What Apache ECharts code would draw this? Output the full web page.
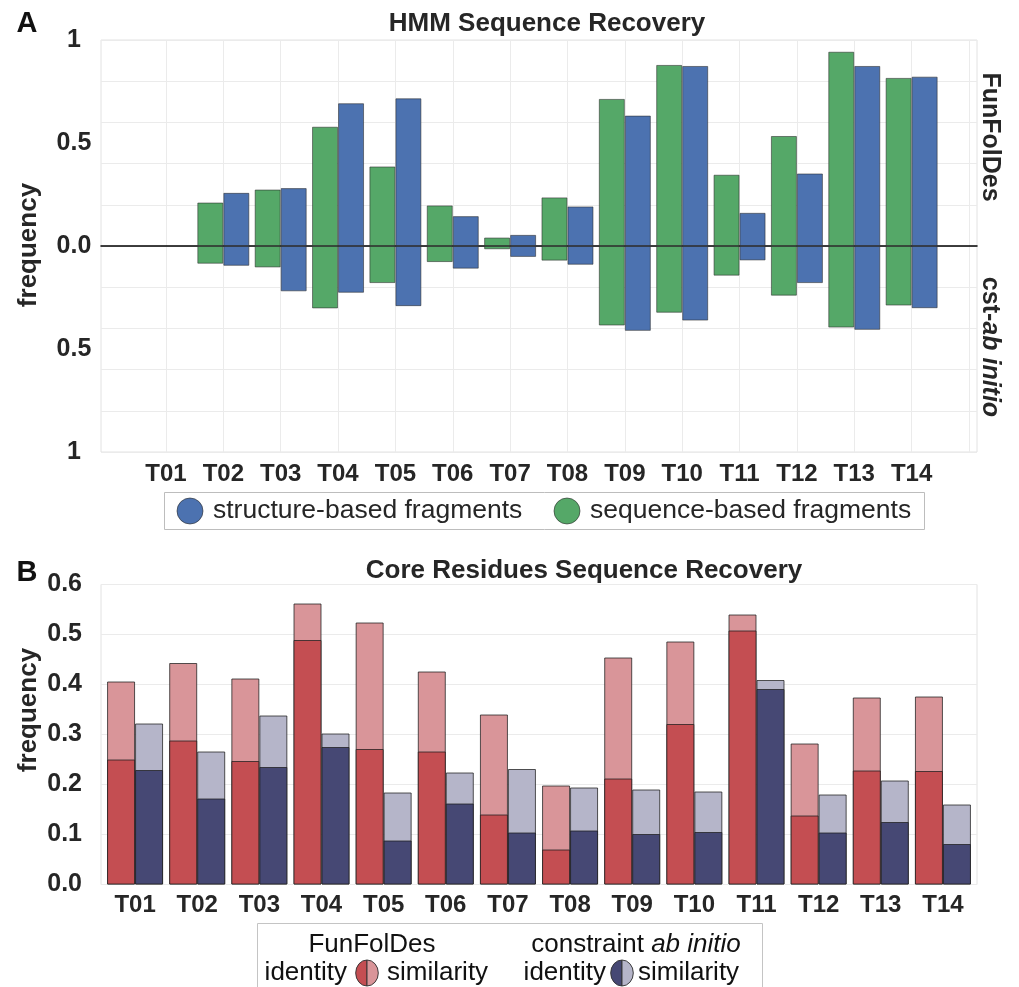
<!DOCTYPE html>
<html>
<head>
<meta charset="utf-8">
<script src="https://cdn.jsdelivr.net/npm/echarts@6/dist/echarts.min.js"></script>
<style>
html,body{margin:0;padding:0;background:#fff;}
#chart{width:1019px;height:987px;}
</style>
</head>
<body>
<div id="chart"></div>
<script>
// ---------- data ----------
const categories = ['T01','T02','T03','T04','T05','T06','T07','T08','T09','T10','T11','T12','T13','T14'];

// Panel A: HMM sequence recovery (upper = FunFolDes, lower = cst-ab initio)
const seqFunFolDes = [null, 0.211, 0.274, 0.579, 0.386, 0.197, 0.041, 0.236, 0.714, 0.879, 0.346, 0.534, 0.943, 0.816];
const strFunFolDes = [null, 0.258, 0.281, 0.693, 0.717, 0.145, 0.054, 0.192, 0.633, 0.874, 0.161, 0.352, 0.874, 0.822];
const seqAbInitio  = [null, 0.086, 0.104, 0.303, 0.180, 0.078, 0.016, 0.071, 0.386, 0.324, 0.144, 0.241, 0.396, 0.289];
const strAbInitio  = [null, 0.096, 0.220, 0.227, 0.292, 0.110, 0.053, 0.091, 0.412, 0.362, 0.070, 0.180, 0.407, 0.302];
const panelATicks = [-1, -0.5, 0, 0.5, 1];

// Panel B: core residues sequence recovery
const funfoldesSimilarity   = [0.406, 0.443, 0.412, 0.562, 0.524, 0.426, 0.340, 0.198, 0.454, 0.486, 0.540, 0.282, 0.374, 0.376];
const funfoldesIdentity     = [0.250, 0.288, 0.247, 0.489, 0.271, 0.266, 0.140, 0.070, 0.212, 0.321, 0.508, 0.138, 0.228, 0.227];
const constraintSimilarity  = [0.322, 0.266, 0.338, 0.302, 0.184, 0.224, 0.231, 0.194, 0.190, 0.186, 0.409, 0.180, 0.208, 0.160];
const constraintIdentity    = [0.229, 0.172, 0.235, 0.275, 0.088, 0.162, 0.104, 0.108, 0.101, 0.105, 0.391, 0.104, 0.125, 0.081];

// ---------- styles ----------
const FONT = 'Liberation Sans, Arial, Helvetica, sans-serif';
const TXT = '#262626';
const GREEN = '#55a868', BLUE = '#4c72b0';
const RED_ID = '#c44e52', RED_SIM = '#d99599';
const NAVY_ID = '#464874', NAVY_SIM = '#b5b5c9';
const GRIDC = '#ebebeb', FRAMEC = '#e2e2e2';

function pts(arr, sign) {
  const out = [];
  arr.forEach((v, i) => { if (v != null) out.push([i + 1, sign * v]); });
  return out;
}
const edgeA = { borderColor: 'rgba(40,40,40,0.55)', borderWidth: 1 };
const edgeB = { borderColor: 'rgba(30,30,30,0.75)', borderWidth: 1 };

function halfDisc(cx, cy, left, right) {
  const common = { scaleX: 0.87, scaleY: 1, originX: cx, originY: cy, z: 11 };
  return [
    Object.assign({ type: 'sector', shape: { cx: cx, cy: cy, r: 13, r0: 0, startAngle: Math.PI / 2, endAngle: Math.PI * 1.5, clockwise: true },
      style: { fill: left, stroke: '#333', lineWidth: 1 } }, common),
    Object.assign({ type: 'sector', shape: { cx: cx, cy: cy, r: 13, r0: 0, startAngle: -Math.PI / 2, endAngle: Math.PI / 2, clockwise: true },
      style: { fill: right, stroke: '#333', lineWidth: 1 } }, common)
  ];
}

const chart = echarts.init(document.getElementById('chart'), null, { renderer: 'canvas' });

const option = {
  animation: false,
  backgroundColor: '#fff',
  textStyle: { fontFamily: FONT },
  grid: [
    { left: 108.6, top: 40, width: 860.4, height: 412, outerBoundsMode: 'none' },           // 0 A bars
    { left: 101, top: 40, width: 876, height: 412, show: true, borderColor: FRAMEC, borderWidth: 1, backgroundColor: 'transparent', outerBoundsMode: 'none' }, // 1 A frame
    { left: 104, top: 584.5, width: 870, height: 300, outerBoundsMode: 'none' },             // 2 B bars
    { left: 101, top: 584.5, width: 876, height: 300, show: true, borderColor: FRAMEC, borderWidth: 1, backgroundColor: 'transparent', outerBoundsMode: 'none' } // 3 B frame
  ],
  xAxis: [
    { // 0: A labels + vertical grid
      gridIndex: 0, type: 'value', min: 0, max: 15, interval: 1,
      axisLine: { show: false }, axisTick: { show: false },
      axisLabel: {
        margin: 10, fontSize: 24, fontWeight: 'bold', color: TXT, fontFamily: FONT,
        formatter: v => (v >= 1 && v <= categories.length) ? categories[v - 1] : ''
      },
      splitLine: { show: true, showMinLine: false, showMaxLine: true, lineStyle: { color: GRIDC, width: 1 } }
    },
    { // 1: A lower (negative) bars, hidden
      gridIndex: 0, type: 'value', min: 0, max: 15, interval: 1, show: false
    },
    { // 2: A frame, zero line
      gridIndex: 1, type: 'value', min: 0, max: 1,
      axisLine: { show: true, onZero: true, lineStyle: { color: '#000', width: 1.5 } },
      axisTick: { show: false }, axisLabel: { show: false }, splitLine: { show: false }
    },
    { // 3: B categories
      gridIndex: 2, type: 'category', data: categories,
      axisLine: { show: false }, axisTick: { show: false },
      axisLabel: { margin: 9, fontSize: 24, fontWeight: 'bold', color: TXT, fontFamily: FONT, interval: 0 },
      splitLine: { show: false }
    },
    { // 4: B identity overlay, hidden
      gridIndex: 2, type: 'category', data: categories, show: false
    },
    { // 5: B frame
      gridIndex: 3, type: 'value', min: 0, max: 1, show: false
    }
  ],
  yAxis: [
    { gridIndex: 0, type: 'value', min: -1, max: 1, show: false },                  // 0
    { gridIndex: 1, type: 'value', min: -1, max: 1, interval: 0.2,                  // 1 gridlines
      axisLine: { show: false }, axisTick: { show: false }, axisLabel: { show: false },
      splitLine: { show: true, lineStyle: { color: GRIDC, width: 1 } } },
    { gridIndex: 1, type: 'value', min: -1, max: 1, interval: 0.5, position: 'left', // 2 labels
      axisLine: { show: false }, axisTick: { show: false }, splitLine: { show: false },
      axisLabel: {
        margin: 27, align: 'center', fontSize: 25, fontWeight: 'bold', color: TXT, fontFamily: FONT,
        formatter: v => {
          const t = panelATicks.find(x => Math.abs(x - v) < 1e-9);
          if (t === undefined) return '';
          if (t === 0) return '0.0';
          return Math.abs(t) === 1 ? '1' : '0.5';
        }
      } },
    { gridIndex: 2, type: 'value', min: 0, max: 0.6, show: false },                // 3
    { gridIndex: 3, type: 'value', min: 0, max: 0.6, interval: 0.1,                 // 4
      axisLine: { show: false }, axisTick: { show: false },
      axisLabel: { margin: 19, fontSize: 25, fontWeight: 'bold', color: TXT, fontFamily: FONT, formatter: v => v.toFixed(1) },
      splitLine: { show: true, lineStyle: { color: GRIDC, width: 1 } } }
  ],
  series: [
    // Panel A upper (FunFolDes)
    { name: 'sequence-based fragments', type: 'bar', xAxisIndex: 0, yAxisIndex: 0, barWidth: 26, barGap: '0%',
      itemStyle: Object.assign({ color: GREEN }, edgeA), data: pts(seqFunFolDes, 1) },
    { name: 'structure-based fragments', type: 'bar', xAxisIndex: 0, yAxisIndex: 0, barWidth: 26, barGap: '0%',
      itemStyle: Object.assign({ color: BLUE }, edgeA), data: pts(strFunFolDes, 1) },
    // Panel A lower (cst-ab initio)
    { name: 'sequence-based fragments', type: 'bar', xAxisIndex: 1, yAxisIndex: 0, barWidth: 26, barGap: '0%',
      itemStyle: Object.assign({ color: GREEN }, edgeA), data: pts(seqAbInitio, -1) },
    { name: 'structure-based fragments', type: 'bar', xAxisIndex: 1, yAxisIndex: 0, barWidth: 26, barGap: '0%',
      itemStyle: Object.assign({ color: BLUE }, edgeA), data: pts(strAbInitio, -1) },
    // Panel B similarity (back)
    { name: 'FunFolDes similarity', type: 'bar', xAxisIndex: 3, yAxisIndex: 3, barWidth: 28, barGap: '0%',
      itemStyle: Object.assign({ color: RED_SIM }, edgeB), data: funfoldesSimilarity, z: 2 },
    { name: 'constraint ab initio similarity', type: 'bar', xAxisIndex: 3, yAxisIndex: 3, barWidth: 28, barGap: '0%',
      itemStyle: Object.assign({ color: NAVY_SIM }, edgeB), data: constraintSimilarity, z: 2 },
    // Panel B identity (front)
    { name: 'FunFolDes identity', type: 'bar', xAxisIndex: 4, yAxisIndex: 3, barWidth: 28, barGap: '0%',
      itemStyle: Object.assign({ color: RED_ID }, edgeB), data: funfoldesIdentity, z: 3 },
    { name: 'constraint ab initio identity', type: 'bar', xAxisIndex: 4, yAxisIndex: 3, barWidth: 28, barGap: '0%',
      itemStyle: Object.assign({ color: NAVY_ID }, edgeB), data: constraintIdentity, z: 3 }
  ],
  graphic: [
    // Panel letters and titles
    { type: 'text', x: 27, y: 24, style: { text: 'A', font: 'bold 29px ' + FONT, fill: '#111', align: 'center', verticalAlign: 'middle' } },
    { type: 'text', x: 547, y: 24, style: { text: 'HMM Sequence Recovery', font: 'bold 26px ' + FONT, fill: TXT, align: 'center', verticalAlign: 'middle' } },
    { type: 'text', x: 27, y: 573, style: { text: 'B', font: 'bold 29px ' + FONT, fill: '#111', align: 'center', verticalAlign: 'middle' } },
    { type: 'text', x: 584, y: 571, style: { text: 'Core Residues Sequence Recovery', font: 'bold 26px ' + FONT, fill: TXT, align: 'center', verticalAlign: 'middle' } },
    // y axis names
    { type: 'text', x: 29, y: 245, rotation: Math.PI / 2, style: { text: 'frequency', font: 'bold 26px ' + FONT, fill: TXT, align: 'center', verticalAlign: 'middle' } },
    { type: 'text', x: 29, y: 710, rotation: Math.PI / 2, style: { text: 'frequency', font: 'bold 26px ' + FONT, fill: TXT, align: 'center', verticalAlign: 'middle' } },
    // right-side labels
    { type: 'text', x: 990, y: 137, rotation: -Math.PI / 2, style: { text: 'FunFolDes', font: 'bold 25px ' + FONT, fill: TXT, align: 'center', verticalAlign: 'middle' } },
    { type: 'text', x: 990, y: 347, rotation: -Math.PI / 2, style: {
        text: '{b|cst-}{i|ab initio}', align: 'center', verticalAlign: 'middle',
        rich: { b: { font: 'bold 25px ' + FONT, fill: TXT }, i: { font: 'italic bold 25px ' + FONT, fill: TXT } } } },
    // Legend A
    { type: 'rect', shape: { x: 164.5, y: 492.5, width: 760, height: 37 }, style: { fill: '#fff', stroke: '#bdbdbd', lineWidth: 1 }, z: 10 },
    { type: 'circle', shape: { cx: 190, cy: 511, r: 13 }, style: { fill: BLUE, stroke: 'rgba(40,40,40,0.6)', lineWidth: 1 }, z: 11 },
    { type: 'text', x: 213, y: 511, z: 11, style: { text: 'structure-based fragments', font: '26.5px ' + FONT, fill: TXT, align: 'left', verticalAlign: 'middle' } },
    { type: 'circle', shape: { cx: 567, cy: 511, r: 13 }, style: { fill: GREEN, stroke: 'rgba(40,40,40,0.6)', lineWidth: 1 }, z: 11 },
    { type: 'text', x: 590, y: 511, z: 11, style: { text: 'sequence-based fragments', font: '26.5px ' + FONT, fill: TXT, align: 'left', verticalAlign: 'middle' } },
    // Legend B
    { type: 'rect', shape: { x: 257.5, y: 923.5, width: 505, height: 80 }, style: { fill: '#fff', stroke: '#c4c4c4', lineWidth: 1 }, z: 10 },
    { type: 'text', x: 372, y: 945, z: 11, style: { text: 'FunFolDes', font: '26px ' + FONT, fill: '#111', align: 'center', verticalAlign: 'middle' } },
    { type: 'text', x: 636, y: 945, z: 11, style: {
        text: '{r|constraint }{i|ab initio}', align: 'center', verticalAlign: 'middle',
        rich: { r: { font: '26px ' + FONT, fill: '#111' }, i: { font: 'italic 26px ' + FONT, fill: '#111' } } } },
    { type: 'text', x: 347, y: 973, z: 11, style: { text: 'identity', font: '26px ' + FONT, fill: '#111', align: 'right', verticalAlign: 'middle' } },
    ...halfDisc(367, 973, RED_ID, RED_SIM),
    { type: 'text', x: 387, y: 973, z: 11, style: { text: 'similarity', font: '26px ' + FONT, fill: '#111', align: 'left', verticalAlign: 'middle' } },
    { type: 'text', x: 606, y: 973, z: 11, style: { text: 'identity', font: '26px ' + FONT, fill: '#111', align: 'right', verticalAlign: 'middle' } },
    ...halfDisc(622, 973, NAVY_ID, NAVY_SIM),
    { type: 'text', x: 638, y: 973, z: 11, style: { text: 'similarity', font: '26px ' + FONT, fill: '#111', align: 'left', verticalAlign: 'middle' } }
  ]
};
chart.setOption(option);
</script>
</body>
</html>
